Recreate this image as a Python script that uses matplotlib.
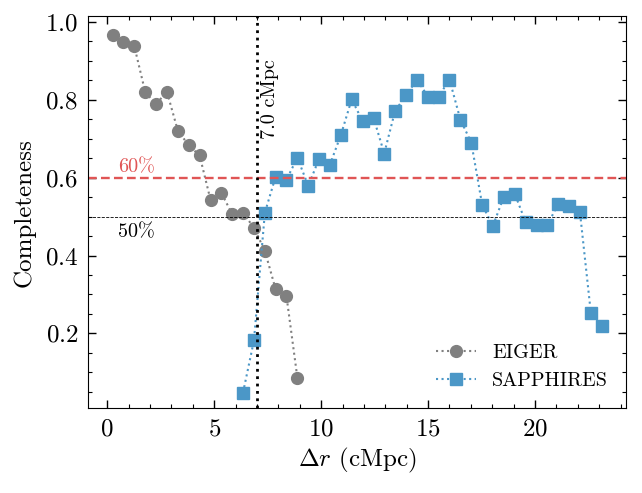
import matplotlib
matplotlib.use("Agg")
import matplotlib.pyplot as plt
from matplotlib.ticker import MultipleLocator

plt.rcParams["font.family"] = "serif"
plt.rcParams["font.serif"] = ["cmr10"]
plt.rcParams["mathtext.fontset"] = "cm"
plt.rcParams["axes.formatter.use_mathtext"] = True
plt.rcParams["axes.unicode_minus"] = False

# completeness vs separation
eiger_r = [0.25, 0.76, 1.27, 1.78, 2.29, 2.79, 3.30, 3.81, 4.32, 4.83, 5.33,
           5.84, 6.35, 6.86, 7.37, 7.87, 8.38, 8.89]
eiger_c = [0.966, 0.948, 0.937, 0.819, 0.789, 0.821, 0.721, 0.683, 0.657,
           0.543, 0.561, 0.507, 0.510, 0.471, 0.412, 0.314, 0.296, 0.086]

sapph_r = [6.35, 6.86, 7.37, 7.87, 8.38, 8.89, 9.40, 9.91, 10.41, 10.92,
           11.43, 11.94, 12.45, 12.95, 13.46, 13.97, 14.48, 14.99, 15.49,
           16.00, 16.51, 17.02, 17.53, 18.03, 18.54, 19.05, 19.56, 20.07,
           20.57, 21.08, 21.59, 22.10, 22.61, 23.11]
sapph_c = [0.048, 0.182, 0.510, 0.602, 0.595, 0.651, 0.579, 0.649, 0.633,
           0.709, 0.801, 0.745, 0.754, 0.662, 0.772, 0.811, 0.852, 0.808,
           0.808, 0.852, 0.749, 0.690, 0.530, 0.476, 0.551, 0.559, 0.486,
           0.478, 0.478, 0.532, 0.527, 0.511, 0.252, 0.218]

r_cut = 7.0

fig = plt.figure(figsize=(6.42, 4.93), dpi=100)
ax = fig.add_axes([0.137, 0.172, 0.838, 0.7955])

ax.plot(eiger_r, eiger_c, ls=":", lw=1.5, marker="o", ms=8.5,
        color="gray", label="EIGER")
ax.plot(sapph_r, sapph_c, ls=":", lw=1.5, marker="s", ms=8.5,
        color="#4b97c7", label="SAPPHIRES")

ax.axhline(0.6, color="#e05555", ls="--", lw=1.7, dashes=(3.7, 1.8))
ax.axhline(0.5, color="black", ls="--", lw=0.6)
ax.axvline(r_cut, color="black", ls=":", lw=2)

ax.text(0.5, 0.603, "60%", color="#e05555", fontsize=14.5,
        ha="left", va="bottom")
ax.text(0.5, 0.483, "50%", color="black", fontsize=14.5,
        ha="left", va="top")
ax.text(r_cut + 0.2, 0.70, "7.0 cMpc", rotation=90, fontsize=14.5,
        ha="left", va="bottom")

ax.set_xlim(-0.9, 24.25)
ax.set_ylim(0.008, 1.015)
ax.xaxis.set_major_locator(MultipleLocator(5))
ax.xaxis.set_minor_locator(MultipleLocator(1))
ax.yaxis.set_minor_locator(MultipleLocator(0.05))
ax.set_yticks([0.2, 0.4, 0.6, 0.8, 1.0])
ax.tick_params(which="both", direction="in", top=True, right=True,
               labelsize=18, pad=7)
ax.tick_params(which="major", length=5.5, width=1)
ax.tick_params(which="minor", length=3, width=0.8)

ax.set_xlabel(r"$\Delta r$ (cMpc)", fontsize=18, labelpad=4)
ax.set_ylabel("Completeness", fontsize=18, labelpad=7)
ax.legend(loc="lower right", frameon=False, fontsize=14.5)

fig.savefig("out.png", dpi=100)
